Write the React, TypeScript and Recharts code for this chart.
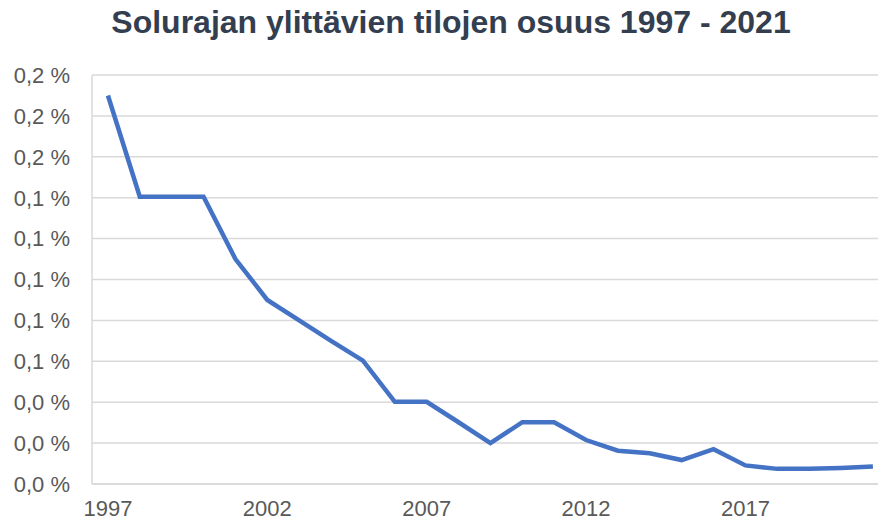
import React from 'react';
import { LineChart, Line, XAxis, YAxis, CartesianGrid } from 'recharts';

const YEARS = [
  1997, 1998, 1999, 2000, 2001, 2002, 2003, 2004, 2005, 2006, 2007, 2008, 2009,
  2010, 2011, 2012, 2013, 2014, 2015, 2016, 2017, 2018, 2019, 2020, 2021,
];
// osuus prosentteina
const SHARE = [
  0.19, 0.1405, 0.1405, 0.1405, 0.11, 0.09, 0.08, 0.07, 0.0603, 0.0402, 0.0402, 0.0302, 0.02,
  0.0302, 0.0302, 0.0215, 0.0163, 0.015, 0.0117, 0.017, 0.0091, 0.0074, 0.0074, 0.0078, 0.0085,
];
const X_TICKS = [1997, 2002, 2007, 2012, 2017];
const Y_TICKS = [0, 0.02, 0.04, 0.06, 0.08, 0.1, 0.12, 0.14, 0.16, 0.18, 0.2];

const FONT = 'Arial, "Liberation Sans", sans-serif';
const TICK_STYLE = { fontSize: 22, fill: '#595959', fontFamily: FONT };
const GRID = '#d9d9d9';

const chartData = YEARS.map((year, i) => ({ year, share: SHARE[i] }));

function pct(v: number): string {
  return `${v.toFixed(1).replace('.', ',')} %`;
}

export default function App() {
  return (
    <div style={{ position: 'absolute', left: 0, top: 0, width: 878, height: 522, background: '#fff' }}>
      <div
        style={{
          position: 'absolute',
          left: 12,
          top: 4,
          width: 878,
          textAlign: 'center',
          fontFamily: FONT,
          fontWeight: 'bold',
          fontSize: 32,
          color: '#333f50',
        }}
      >
        Solurajan ylittävien tilojen osuus 1997 - 2021
      </div>
      <LineChart width={878} height={522} data={chartData} margin={{ top: 75, right: 0, bottom: 0, left: 0 }}>
        <CartesianGrid stroke={GRID} strokeWidth={1.5} vertical={false} />
        <XAxis
          dataKey="year"
          type="number"
          domain={[1996.5, 2021.16]}
          ticks={X_TICKS}
          tick={TICK_STYLE}
          tickLine={false}
          tickSize={0}
          tickMargin={16}
          axisLine={{ stroke: GRID, strokeWidth: 1.5 }}
          height={38}
          allowDataOverflow
        />
        <YAxis
          domain={[0, 0.2]}
          ticks={Y_TICKS}
          tickFormatter={pct}
          tick={TICK_STYLE}
          tickLine={false}
          tickSize={0}
          tickMargin={22}
          axisLine={{ stroke: GRID, strokeWidth: 1.5 }}
          width={92}
          interval={0}
        />
        <Line
          type="linear"
          dataKey="share"
          stroke="#4472c4"
          strokeWidth={4.5}
          dot={false}
          isAnimationActive={false}
        />
      </LineChart>
    </div>
  );
}
